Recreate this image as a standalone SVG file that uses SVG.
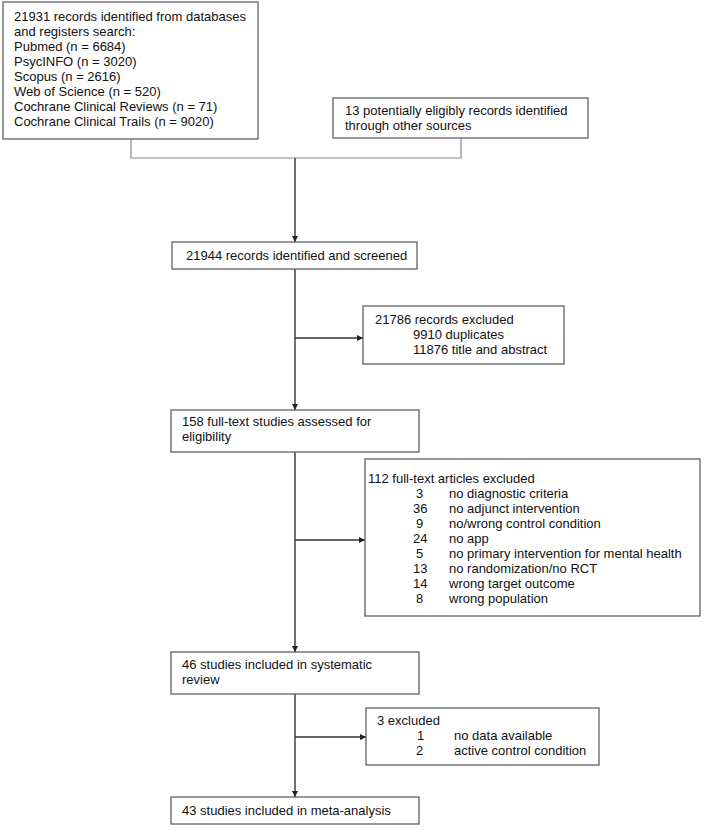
<svg xmlns="http://www.w3.org/2000/svg" width="704" height="831" viewBox="0 0 704 831">
<style>
rect.box{fill:#fff;stroke:#555;stroke-width:1.2}
text{font-family:"Liberation Sans",Arial,sans-serif;font-size:13px;fill:#111}
.merge{stroke:#888;stroke-width:1.2;fill:none}
.arr{stroke:#333;stroke-width:1.4;fill:none;marker-end:url(#ah)}
</style>
<defs>
<marker id="ah" viewBox="0 0 10 10" refX="10" refY="5" markerWidth="6" markerHeight="6" markerUnits="userSpaceOnUse" orient="auto">
<path d="M0,0 L10,5 L0,10 z" fill="#222"/>
</marker>
</defs>
<rect width="704" height="831" fill="#fff"/>
<g id="connectors">
<path class="merge" d="M131,139 V158 H461 V138"/>
<path class="arr" d="M295,158 V242"/>
<path class="arr" d="M295,269 V410"/>
<path class="arr" d="M295,452 V652"/>
<path class="arr" d="M295,694 V797"/>
<path class="arr" d="M295,338 H363"/>
<path class="arr" d="M295,540 H365"/>
<path class="arr" d="M295,737 H366"/>
</g>
<g id="n1">
<rect class="box" x="3" y="2" width="255" height="137"/>
<text x="14" y="21">21931 records identified from databases</text>
<text x="14" y="36">and registers search:</text>
<text x="14" y="51">Pubmed (n = 6684)</text>
<text x="14" y="66">PsycINFO (n = 3020)</text>
<text x="14" y="81">Scopus (n = 2616)</text>
<text x="14" y="96">Web of Science (n = 520)</text>
<text x="14" y="111">Cochrane Clinical Reviews (n = 71)</text>
<text x="14" y="126">Cochrane Clinical Trails (n = 9020)</text>
</g>
<g id="n2">
<rect class="box" x="333" y="98" width="255" height="40"/>
<text x="345" y="115">13 potentially eligibly records identified</text>
<text x="345" y="130">through other sources</text>
</g>
<g id="n3">
<rect class="box" x="172" y="242" width="245" height="27"/>
<text x="186" y="260">21944 records identified and screened</text>
</g>
<g id="n4">
<rect class="box" x="363" y="306" width="201" height="58"/>
<text x="375" y="324">21786 records excluded</text>
<text x="413" y="339">9910 duplicates</text>
<text x="413" y="354">11876 title and abstract</text>
</g>
<g id="n5">
<rect class="box" x="171" y="410" width="248" height="42"/>
<text x="182" y="426">158 full-text studies assessed for</text>
<text x="182" y="441">eligibility</text>
</g>
<g id="n6">
<rect class="box" x="365" y="459" width="335" height="157"/>
<text x="368" y="483">112 full-text articles excluded</text>
<text x="416" y="498">3</text><text x="449" y="498">no diagnostic criteria</text>
<text x="413" y="513">36</text><text x="449" y="513">no adjunct intervention</text>
<text x="416" y="528">9</text><text x="449" y="528">no/wrong control condition</text>
<text x="413" y="543">24</text><text x="449" y="543">no app</text>
<text x="416" y="558">5</text><text x="449" y="558">no primary intervention for mental health</text>
<text x="413" y="573">13</text><text x="449" y="573">no randomization/no RCT</text>
<text x="413" y="588">14</text><text x="449" y="588">wrong target outcome</text>
<text x="416" y="603">8</text><text x="449" y="603">wrong population</text>
</g>
<g id="n7">
<rect class="box" x="171" y="652" width="248" height="42"/>
<text x="182" y="669">46 studies included in systematic</text>
<text x="182" y="684">review</text>
</g>
<g id="n8">
<rect class="box" x="366" y="708" width="233" height="57"/>
<text x="377" y="725">3 excluded</text>
<text x="417" y="740">1</text><text x="454" y="740">no data available</text>
<text x="416" y="755">2</text><text x="454" y="755">active control condition</text>
</g>
<g id="n9">
<rect class="box" x="171" y="797" width="248" height="27"/>
<text x="182" y="815">43 studies included in meta-analysis</text>
</g>
</svg>
